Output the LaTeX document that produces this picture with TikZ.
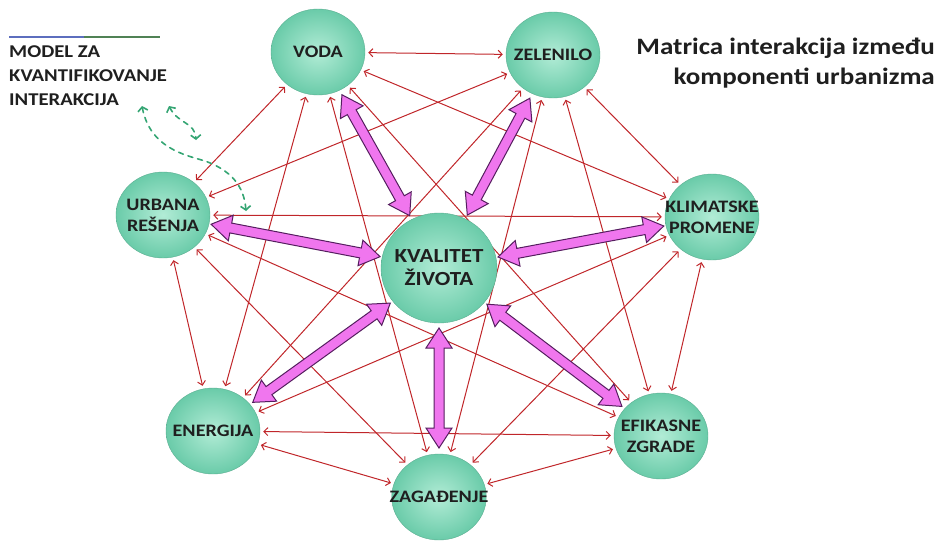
\documentclass[tikz,border=0pt]{standalone}
\usepackage{fontspec}
\setmainfont{Carlito}[FakeStretch=1.15]
\usetikzlibrary{arrows.meta,calc,shapes.geometric}
\definecolor{linkred}{RGB}{192,38,42}
\definecolor{ballin}{RGB}{178,236,214}
\definecolor{ballout}{RGB}{106,203,169}
\definecolor{fatfill}{RGB}{240,118,238}
\definecolor{fatline}{RGB}{85,30,95}
\definecolor{dashgreen}{RGB}{52,165,115}
\definecolor{rulblue}{RGB}{92,110,190}
\definecolor{rulgreen}{RGB}{80,130,85}
\begin{document}
\begin{tikzpicture}[x=1pt,y=-1pt,line join=round,line cap=round]
	\tikzset{comp/.style={ellipse,minimum width=94pt,minimum height=86pt,inner xsep=-16pt,inner ysep=0pt,inner color=ballin,outer color=ballout,draw=ballout!85!black,line width=0.4pt,text=black!88,align=center,font=\fontsize{17.5}{21}\selectfont\bfseries},
		link/.style={linkred,line width=1pt,{Straight Barb[length=4pt,width=8pt]}-{Straight Barb[length=4pt,width=8pt]},shorten <=3pt,shorten >=3pt},
		fat/.style={fill=fatfill,draw=fatline,line width=1pt,line join=miter},
		loopdash/.style={dashgreen,dashed,dash pattern=on 5pt off 5pt,line width=1.6pt,{Straight Barb[length=4pt,width=10pt]}-{Straight Barb[length=4pt,width=10pt]}}}
	\useasboundingbox (0,0) rectangle (941,541);
	% komponente
	\node[comp] (voda) at (318,52) {VODA};
	\node[comp] (zel) at (553,55) {ZELENILO};
	\node[comp] (klim) at (712,217) {KLIMATSKE\\PROMENE};
	\node[comp] (efik) at (661,436) {EFIKASNE\\ZGRADE};
	\node[comp] (zag) at (439,497) {ZAGAĐENJE};
	\node[comp] (ener) at (213,431) {ENERGIJA};
	\node[comp] (urb) at (163,215) {URBANA\\REŠENJA};
	% veze
	\foreach \a/\b in {voda/zel,voda/klim,voda/efik,voda/zag,voda/ener,voda/urb,zel/klim,zel/efik,zel/zag,zel/ener,zel/urb,klim/efik,klim/zag,klim/ener,klim/urb,efik/zag,efik/ener,efik/urb,zag/ener,zag/urb,ener/urb}
		\draw[link] (\a) -- (\b);
	\node[comp,minimum width=116pt,minimum height=110pt,font=\fontsize{20}{23}\selectfont\bfseries] (kv) at (439,268) {KVALITET\\ŽIVOTA};
	% debele strelice
	\foreach \n in {voda,zel,klim,efik,zag,ener,urb}
		\draw[fat] ($(kv.center)!60pt!(\n.center)$) -- ($(kv.center)!80pt!(\n.center)!13pt!90:(\n.center)$) -- ($(kv.center)!80pt!(\n.center)!5pt!90:(\n.center)$) -- ($(\n.center)!69pt!(kv.center)!5pt!-90:(kv.center)$) -- ($(\n.center)!69pt!(kv.center)!13pt!-90:(kv.center)$) -- ($(\n.center)!49pt!(kv.center)$) -- ($(\n.center)!69pt!(kv.center)!13pt!90:(kv.center)$) -- ($(\n.center)!69pt!(kv.center)!5pt!90:(kv.center)$) -- ($(kv.center)!80pt!(\n.center)!5pt!-90:(\n.center)$) -- ($(kv.center)!80pt!(\n.center)!13pt!-90:(\n.center)$) -- cycle;
	% model
	\draw[rulblue,line width=2pt,line cap=butt] (9,37) -- (84,37);
	\draw[rulgreen,line width=2pt,line cap=butt] (84,37) -- (160,37);
	\node[anchor=north west,inner sep=0pt,align=left,text=black!88,font=\fontsize{18}{24}\selectfont\bfseries] (model) at (9,45) {MODEL ZA\\KVANTIFIKOVANJE\\INTERAKCIJA};
	\coordinate (m1) at (142,106);
	\coordinate (m2) at (246,211);
	\coordinate (m3) at (169,106);
	\coordinate (m4) at (196,140);
	\draw[loopdash] (m1) .. controls (150,148) and (185,155) .. (205,161) .. controls (230,170) and (244,185) .. (m2);
	\draw[loopdash] (m3) .. controls (178,124) and (195,122) .. (m4);
	% naslov
	\node[anchor=north east,inner sep=0pt,align=right,text=black!88,font=\fontsize{23.5}{30}\selectfont\bfseries] (naslov) at (935,38) {Matrica interakcija između\\komponenti urbanizma};
\end{tikzpicture}
\end{document}
